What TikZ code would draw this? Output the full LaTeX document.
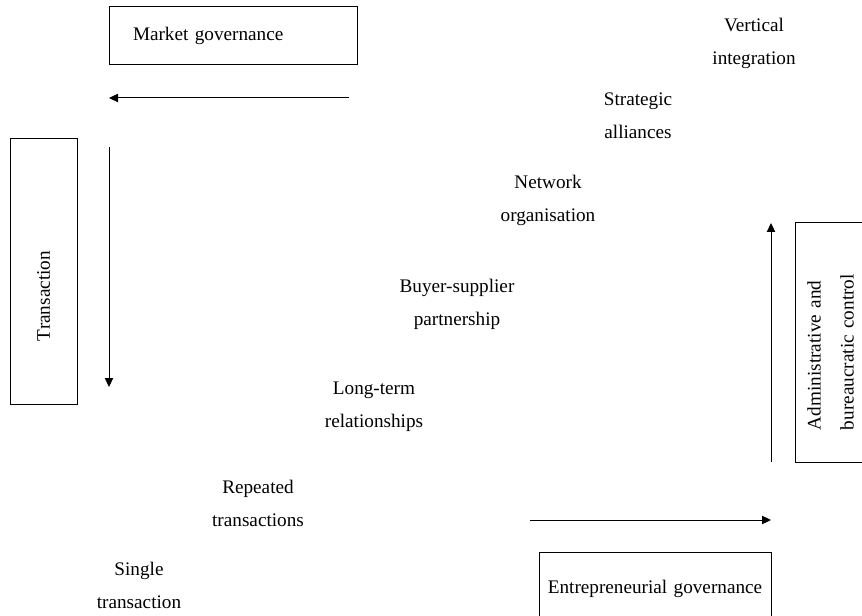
\documentclass[tikz,border=0pt]{standalone}
\usepackage{fontspec}
\setmainfont{Liberation Serif}
\usetikzlibrary{arrows.meta}

\begin{document}
\begin{tikzpicture}[x=0.6pt, y=-0.6pt,
  every node/.style={font=\fontsize{11.52pt}{19.8pt}\selectfont},
  govbox/.style={draw=black, rectangle, line width=0.6pt, inner ysep=0pt},
  stage/.style={align=center, inner sep=0pt, anchor=base},
  flow/.style={-{Triangle[length=5.4pt, width=5pt]}, line width=0.6pt}]
\useasboundingbox (0,0) rectangle (862,616);

\node[govbox, minimum width=148.8pt, minimum height=34.8pt,
  text width=120pt, inner xsep=14.4pt, align=left] (market) at (233,36)
  {Market governance};
\node[govbox, minimum width=139.2pt, minimum height=43.8pt,
  text width=132pt, inner xsep=3.6pt, align=center] (entre) at (655,588.5)
  {Entrepreneurial governance};
\node[govbox, rotate=90, minimum width=159pt, minimum height=40.2pt,
  text width=83.4pt, inner xsep=37.8pt, align=left] (trans) at (43.5,271.5)
  {Transaction};
\node[govbox, rotate=90, minimum width=144pt, minimum height=42.6pt,
  text width=105.6pt, inner xsep=19.2pt, align=left] (admin) at (830.5,342)
  {Administrative and\\bureaucratic control};

\node[stage] (vertical) at (754,65) {Vertical\\integration};
\node[stage] (strategic) at (638,139) {Strategic\\alliances};
\node[stage] (network) at (548,222) {Network\\organisation};
\node[stage] (buyer) at (457,325) {Buyer-supplier\\partnership};
\node[stage] (longterm) at (374,427) {Long-term\\relationships};
\node[stage] (repeated) at (258,526) {Repeated\\transactions};
\node[stage] (single) at (139,608) {Single\\transaction};

\coordinate (marketfrom) at (349,98);
\coordinate (marketto) at (109,98);
\coordinate (transfrom) at (109,147);
\coordinate (transto) at (109,387);
\coordinate (adminfrom) at (771,462);
\coordinate (adminto) at (771,223);
\coordinate (entrefrom) at (530,520);
\coordinate (entreto) at (771,520);

\draw[flow] (marketfrom) -- (marketto);
\draw[flow] (transfrom) -- (transto);
\draw[flow] (adminfrom) -- (adminto);
\draw[flow] (entrefrom) -- (entreto);

\end{tikzpicture}
\end{document}
